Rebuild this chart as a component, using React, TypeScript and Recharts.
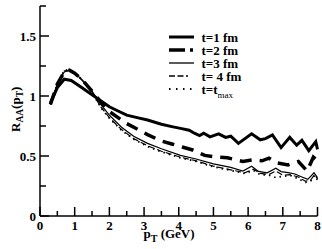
import React from "react";
import { LineChart, Line, XAxis, YAxis } from "recharts";

const pt1 = [0.3,0.5,0.7,0.9,1.2,1.5,1.75,2.0,2.25,2.5,2.8,3.1,3.5,3.8,4.05,4.3,4.45,4.6,4.72,4.9,5.15,5.35,5.5,5.72,6.1,6.35,6.5,6.7,6.95,7.2,7.4,7.55,7.75,7.95,8.0];
const raa1 = [0.94,1.07,1.14,1.13,1.07,1.01,0.96,0.91,0.875,0.84,0.82,0.80,0.765,0.745,0.73,0.715,0.69,0.67,0.69,0.66,0.685,0.655,0.665,0.605,0.685,0.635,0.645,0.675,0.57,0.655,0.59,0.63,0.545,0.62,0.555];

const pt2 = [0.3,0.5,0.7,0.85,1.0,1.2,1.5,1.75,2.0,2.25,2.5,2.8,3.1,3.5,3.8,4.1,4.4,4.75,5.0,5.4,5.85,6.15,6.4,6.6,6.8,7.15,7.45,7.7,7.88,8.0];
const raa2 = [0.93,1.1,1.2,1.215,1.19,1.14,1.04,0.95,0.87,0.82,0.77,0.725,0.678,0.625,0.6,0.575,0.55,0.505,0.495,0.485,0.455,0.468,0.46,0.482,0.445,0.426,0.454,0.375,0.49,0.46];

const pt3 = [0.3,0.5,0.7,0.85,1.0,1.2,1.5,1.75,2.0,2.35,2.7,3.1,3.5,4.05,4.5,5.0,5.5,5.85,6.1,6.3,6.55,6.8,6.95,7.15,7.35,7.55,7.72,7.9,8.0];
const raa3 = [0.93,1.1,1.2,1.215,1.19,1.14,1.04,0.93,0.84,0.74,0.665,0.605,0.56,0.505,0.475,0.435,0.405,0.375,0.415,0.372,0.36,0.398,0.37,0.362,0.35,0.325,0.305,0.36,0.32];

const pt4 = [0.3,0.5,0.7,0.85,1.0,1.2,1.5,1.75,2.0,2.35,2.7,3.1,3.5,4.05,4.5,5.0,5.5,5.9,6.15,6.35,6.6,6.8,7.0,7.2,7.45,7.65,7.8,7.92,8.0];
const raa4 = [0.93,1.1,1.21,1.21,1.185,1.135,1.03,0.91,0.82,0.72,0.645,0.585,0.54,0.49,0.46,0.415,0.385,0.36,0.39,0.355,0.345,0.375,0.34,0.345,0.325,0.29,0.3,0.345,0.31];

const ptMax = [0.3,0.5,0.7,0.85,1.0,1.2,1.5,1.75,2.0,2.35,2.7,3.1,3.5,4.05,4.5,5.0,5.5,5.9,6.15,6.35,6.6,6.8,7.0,7.2,7.45,7.65,7.8,7.92,8.0];
const raaMax = [0.93,1.1,1.215,1.22,1.19,1.14,1.03,0.905,0.815,0.715,0.64,0.58,0.535,0.485,0.455,0.41,0.38,0.355,0.38,0.345,0.34,0.32,0.33,0.34,0.31,0.28,0.29,0.34,0.3];

const xTicks = [0,0.5,1,1.5,2,2.5,3,3.5,4,4.5,5,5.5,6,6.5,7,7.5,8];
const yTicks = [0,0.25,0.5,0.75,1,1.25,1.5,1.75];
const yLabels: Record<string, string> = { "0": "0", "0.5": "0.5", "1": "1", "1.5": "1.5" };

const legendLabels = ["t=1 fm", "t=2 fm", "t=3 fm", "t= 4 fm", "t=t"];

const zip = (xs: number[], ys: number[]) => xs.map((x, i) => ({ pt: x, raa: ys[i] }));

const FONT = "'Liberation Serif', 'Times New Roman', 'DejaVu Serif', serif";
const txt: React.CSSProperties = { fontFamily: FONT, fontWeight: 700, fontSize: 13 };
const isMajorX = (v: number) => Math.abs(v - Math.round(v)) < 1e-6;
const isMajorY = (v: number) => Math.abs(v * 2 - Math.round(v * 2)) < 1e-6;

const BottomTick = (p: any) => {
  const { x, y, payload } = p;
  const v = payload.value;
  const major = isMajorX(v);
  return (
    <g>
      <line x1={x} x2={x} y1={y} y2={y - (major ? 9 : 5)} stroke="#000" strokeWidth={1.5} />
      {major && (
        <text x={x} y={y + 14} textAnchor="middle" style={txt} fill="#000">
          {String(v)}
        </text>
      )}
    </g>
  );
};

const TopTick = (p: any) => {
  const { x, y, payload } = p;
  const major = isMajorX(payload.value);
  return <line x1={x} x2={x} y1={y} y2={y + (major ? 9 : 5)} stroke="#000" strokeWidth={1.5} />;
};

const LeftTick = (p: any) => {
  const { x, y, payload } = p;
  const v = payload.value;
  const major = isMajorY(v);
  const lab = yLabels[String(v)];
  return (
    <g>
      <line x1={x} x2={x + (major ? 9 : 6)} y1={y} y2={y} stroke="#000" strokeWidth={1.5} />
      {lab !== undefined && (
        <text x={x - 4} y={y + 4.5} textAnchor="end" style={txt} fill="#000">
          {lab}
        </text>
      )}
    </g>
  );
};

const RightTick = (p: any) => {
  const { x, y, payload } = p;
  const major = isMajorY(payload.value);
  return <line x1={x} x2={x - (major ? 9 : 6)} y1={y} y2={y} stroke="#000" strokeWidth={1.5} />;
};

const legendStyles = [
  { w: 3, dash: undefined },
  { w: 3.5, dash: "16 5 3 20" },
  { w: 1.3, dash: undefined },
  { w: 1.3, dash: "6 2.5 6 2.5 2 10" },
  { w: 1.8, dash: "1.5 5.5" },
];
const legendRowY = [37, 50, 63, 76, 89];

export default function App() {
  const axisLine = { stroke: "#000", strokeWidth: 1.5 };
  return (
    <div style={{ position: "absolute", left: 0, top: 0, width: 322, height: 249, background: "#fff" }}>
      <LineChart width={322} height={249} margin={{ top: 6, right: 4.5, bottom: 0, left: 0 }}>
        <XAxis xAxisId="b" dataKey="pt" type="number" domain={[0, 8]} ticks={xTicks} interval={0}
          height={33} tickSize={0} tickMargin={0} tickLine={false} axisLine={axisLine} tick={<BottomTick />} allowDuplicatedCategory={false} />
        <XAxis xAxisId="t" orientation="top" dataKey="pt" type="number" domain={[0, 8]} ticks={xTicks} interval={0}
          height={0} tickSize={0} tickMargin={0} tickLine={false} axisLine={axisLine} tick={<TopTick />} allowDuplicatedCategory={false} />
        <YAxis yAxisId="l" type="number" domain={[0, 1.75]} ticks={yTicks} interval={0} width={40}
          tickSize={0} tickMargin={0} tickLine={false} axisLine={axisLine} tick={<LeftTick />} />
        <YAxis yAxisId="r" orientation="right" type="number" domain={[0, 1.75]} ticks={yTicks} interval={0} width={0}
          tickSize={0} tickMargin={0} tickLine={false} axisLine={axisLine} tick={<RightTick />} />
        <Line xAxisId="b" yAxisId="l" data={zip(pt1, raa1)} dataKey="raa" stroke="#000" strokeWidth={3} dot={false} isAnimationActive={false} />
        <Line xAxisId="t" yAxisId="r" data={zip(pt2, raa2)} dataKey="raa" stroke="#000" strokeWidth={3.5} strokeDasharray="12 8" dot={false} isAnimationActive={false} />
        <Line xAxisId="b" yAxisId="l" data={zip(pt3, raa3)} dataKey="raa" stroke="#000" strokeWidth={1.2} dot={false} isAnimationActive={false} />
        <Line xAxisId="t" yAxisId="r" data={zip(pt4, raa4)} dataKey="raa" stroke="#000" strokeWidth={1.2} strokeDasharray="6 3" dot={false} isAnimationActive={false} />
        <Line xAxisId="b" yAxisId="l" data={zip(ptMax, raaMax)} dataKey="raa" stroke="#000" strokeWidth={1.8} strokeDasharray="1.5 4" dot={false} isAnimationActive={false} />
      </LineChart>
      <svg width={322} height={249} style={{ position: "absolute", left: 0, top: 0, pointerEvents: "none" }}>
        <g style={txt} fill="#000">
          {legendLabels.map((lab, i) => (
            <g key={i}>
              <line x1={169} x2={194} y1={legendRowY[i]} y2={legendRowY[i]} stroke="#000"
                strokeWidth={legendStyles[i].w} strokeDasharray={legendStyles[i].dash} />
              <text x={201.5} y={legendRowY[i] + 4.5}>
                {lab}
                {i === 4 && <tspan style={{ fontSize: 9, fontWeight: 400 }} dy={4}>max</tspan>}
              </text>
            </g>
          ))}
          <text x={143.5} y={238} xmlSpace="preserve">
            p<tspan style={{ fontSize: 10 }} dy={4}>T</tspan><tspan dy={-4.5}>{" (GeV)"}</tspan>
          </text>
          <text transform="translate(20,132) rotate(-90)">
            R<tspan style={{ fontSize: 9.5 }} dy={3}>AA</tspan><tspan dy={-3}>(p</tspan><tspan style={{ fontSize: 9.5 }} dy={3}>T</tspan><tspan dy={-3}>)</tspan>
          </text>
        </g>
      </svg>
    </div>
  );
}
